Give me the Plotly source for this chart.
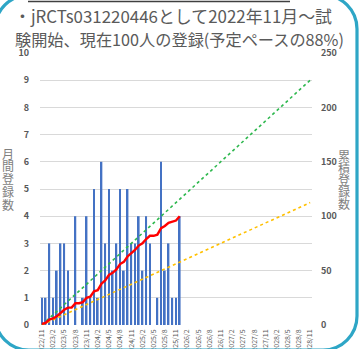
import plotly.graph_objects as go
import numpy as np

# ---- data ----
start_year, start_month = 2022, 11
months = []
y, m = start_year, start_month
for _ in range(73):
    months.append(f"{y}/{m}")
    m += 1
    if m > 12:
        m = 1
        y += 1

monthly = [1, 1, 3, 1, 2, 3, 3, 2, 0, 4, 0, 1, 4,
           1, 5, 1, 6, 3, 5, 2, 3, 5, 2, 5, 3, 3, 4,
           2, 4, 3, 0, 1, 6, 2, 3, 1, 1, 4]
data_months = months[:len(monthly)]
cumulative = list(np.cumsum(monthly))

plan_x = ["2022/11", "2028/11"]
plan_green = [0, 225]
plan_orange = [0, 112.5]

tick_labels = months[::3]
left_ticks = list(range(0, 11))
right_ticks = list(range(0, 251, 50))

title_line1 = "・jRCTs031220446として2022年11月～試"
title_line2 = "験開始、現在100人の登録(予定ペースの88%)"
left_title = "月間登録数"
right_title = "累積登録数"

# ---- layout geometry (pixels) ----
W, H = 359, 349
ML, MR, MT, MB = 40, 47, 53, 24
PW, PH = W - ML - MR, H - MT - MB


def px(xp):
    return (xp - ML) / PW


def py(yp):
    return (H - MB - yp) / PH


fig = go.Figure()
fig.add_trace(go.Bar(x=data_months, y=monthly, marker_color="#4472C4",
                     marker_line_width=0, yaxis="y", name="月間"))
fig.add_trace(go.Scatter(x=plan_x, y=plan_green, mode="lines", yaxis="y2",
                         line=dict(color="#2EB84E", width=1.6, dash="dot")))
fig.add_trace(go.Scatter(x=plan_x, y=plan_orange, mode="lines", yaxis="y2",
                         line=dict(color="#FFC000", width=1.6, dash="dot")))
fig.add_trace(go.Scatter(x=data_months, y=cumulative, mode="lines", yaxis="y2",
                         line=dict(color="#FF0000", width=2.4)))

font_family = "Noto Sans CJK JP"
gray = "#595959"

annotations = [
    dict(x=px(12), y=py(15), xref="paper", yref="paper", text=title_line1,
         showarrow=False, xanchor="left", yanchor="middle",
         font=dict(family=font_family, size=16.9, color="#5A5A5A")),
    dict(x=px(13), y=py(38.5), xref="paper", yref="paper", text=title_line2,
         showarrow=False, xanchor="left", yanchor="middle",
         font=dict(family=font_family, size=16.2, color="#5A5A5A")),
]
for i, ch in enumerate(left_title):
    annotations.append(dict(x=px(8), y=py(153 + i * 12.8), xref="paper", yref="paper",
                            text=ch, showarrow=False, xanchor="center", yanchor="middle",
                            font=dict(family=font_family, size=12, color="#7F7F7F")))
for i, ch in enumerate(right_title):
    annotations.append(dict(x=px(344), y=py(155 + i * 12.2), xref="paper", yref="paper",
                            text=ch, showarrow=False, xanchor="center", yanchor="middle",
                            font=dict(family=font_family, size=12, color="#7F7F7F")))

# rounded border (slide frame)
L, R, T, B, r = -5, 357, -5, 350, 34
k = 0.5523 * r
def P(xp, yp):
    return f"{px(xp):.5f},{py(yp):.5f}"
path = (f"M {P(L + r, T)} L {P(R - r, T)} "
        f"C {P(R - r + k, T)} {P(R, T + r - k)} {P(R, T + r)} "
        f"L {P(R, B - r)} "
        f"C {P(R, B - r + k)} {P(R - r + k, B)} {P(R - r, B)} "
        f"L {P(L + r, B)} "
        f"C {P(L + r - k, B)} {P(L, B - r + k)} {P(L, B - r)} "
        f"L {P(L, T + r)} "
        f"C {P(L, T + r - k)} {P(L + r - k, T)} {P(L + r, T)} Z")
shapes = [
    dict(type="path", xref="paper", yref="paper", path=path,
         line=dict(color="#2EA6C6", width=3.2), fillcolor="rgba(0,0,0,0)", layer="above"),
    dict(type="line", xref="paper", yref="paper", x0=px(28), x1=px(290), y0=py(1.5), y1=py(1.5),
         line=dict(color="#404040", width=1.5)),
]

fig.update_layout(
    template="none",
    width=W, height=H,
    margin=dict(l=ML, r=MR, t=MT, b=MB, pad=0, autoexpand=False),
    paper_bgcolor="white", plot_bgcolor="white",
    showlegend=False,
    hovermode=False,
    bargap=0.54,
    font=dict(family=font_family, color=gray),
    xaxis=dict(type="category", categoryorder="array", categoryarray=months,
               range=[-0.5, len(months) - 0.5], automargin=False,
               tickmode="array", tickvals=tick_labels, ticktext=tick_labels,
               tickangle=-90, tickfont=dict(size=7, color=gray),
               showgrid=False, showline=False, ticks="", zeroline=False,
               ticklabelstandoff=2),
    yaxis=dict(range=[0, 10], tickvals=left_ticks, showgrid=True, gridcolor="#D9D9D9",
               gridwidth=1, zeroline=False, showline=False, automargin=False,
               ticks="", ticklabelstandoff=10,
               tickfont=dict(size=9, color=gray, weight="bold")),
    yaxis2=dict(range=[0, 250], tickvals=right_ticks, overlaying="y", side="right",
                showgrid=False, zeroline=False, showline=False, automargin=False,
                ticks="", ticklabelstandoff=8,
                tickfont=dict(size=9, color=gray, weight="bold")),
    annotations=annotations,
    shapes=shapes,
)

fig.write_html("out.html",
               config={"displayModeBar": False},
               post_script="document.body.style.margin='0';document.body.style.padding='0';"
                           "document.documentElement.style.overflow='hidden';")
